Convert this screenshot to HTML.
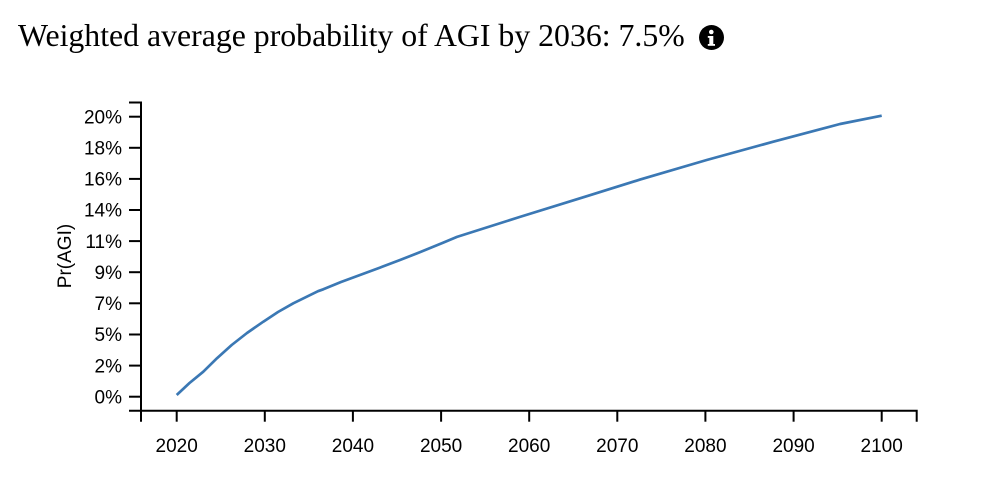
<!DOCTYPE html>
<html>
<head>
<meta charset="utf-8">
<style>
  html, body { margin: 0; padding: 0; background: #fff; }
  body { width: 992px; height: 490px; overflow: hidden; position: relative; }
  svg { position: absolute; left: 0; top: 0; }
  .tick { font-family: "Liberation Sans", Arial, sans-serif; font-size: 19px; fill: #000; }
  .title { font-family: "Liberation Serif", "Times New Roman", serif; font-size: 31.8px; fill: #000; }
</style>
</head>
<body>
<svg width="992" height="490" viewBox="0 0 992 490" xmlns="http://www.w3.org/2000/svg">
  <text class="title" x="18" y="46">Weighted average probability of AGI by 2036: 7.5%</text>
  <!-- info icon -->
  <circle cx="711.5" cy="37.5" r="12.5" fill="#000"/>
  <circle cx="711.3" cy="32" r="2.3" fill="#fff"/>
  <rect x="709.3" y="36" width="4" height="9.5" fill="#fff"/>
  <rect x="707.8" y="36" width="3" height="1.8" fill="#fff"/>
  <rect x="707.8" y="44" width="7.2" height="1.8" fill="#fff"/>

  <!-- y axis -->
  <path d="M129,102.5 H141 V410.7 H129" fill="none" stroke="#000" stroke-width="2"/>
  <g stroke="#000" stroke-width="2">
    <line x1="129" x2="141" y1="116.7" y2="116.7"/>
    <line x1="129" x2="141" y1="147.8" y2="147.8"/>
    <line x1="129" x2="141" y1="178.9" y2="178.9"/>
    <line x1="129" x2="141" y1="210.0" y2="210.0"/>
    <line x1="129" x2="141" y1="241.1" y2="241.1"/>
    <line x1="129" x2="141" y1="272.2" y2="272.2"/>
    <line x1="129" x2="141" y1="303.3" y2="303.3"/>
    <line x1="129" x2="141" y1="334.5" y2="334.5"/>
    <line x1="129" x2="141" y1="365.6" y2="365.6"/>
    <line x1="129" x2="141" y1="396.7" y2="396.7"/>
  </g>
  <g class="tick" text-anchor="end">
    <text x="122" y="123.4">20%</text>
    <text x="122" y="154.5">18%</text>
    <text x="122" y="185.6">16%</text>
    <text x="122" y="216.7">14%</text>
    <text x="122" y="247.8">11%</text>
    <text x="122" y="278.9">9%</text>
    <text x="122" y="310.0">7%</text>
    <text x="122" y="341.2">5%</text>
    <text x="122" y="372.3">2%</text>
    <text x="122" y="403.4">0%</text>
  </g>
  <text class="tick" transform="translate(71,256) rotate(-90)" text-anchor="middle">Pr(AGI)</text>

  <!-- x axis -->
  <path d="M141,421.7 V410.7 H916.7 V421.7" fill="none" stroke="#000" stroke-width="2"/>
  <g stroke="#000" stroke-width="2">
    <line x1="176.7" x2="176.7" y1="410.7" y2="421.7"/>
    <line x1="264.8" x2="264.8" y1="410.7" y2="421.7"/>
    <line x1="352.9" x2="352.9" y1="410.7" y2="421.7"/>
    <line x1="441.1" x2="441.1" y1="410.7" y2="421.7"/>
    <line x1="529.2" x2="529.2" y1="410.7" y2="421.7"/>
    <line x1="617.3" x2="617.3" y1="410.7" y2="421.7"/>
    <line x1="705.4" x2="705.4" y1="410.7" y2="421.7"/>
    <line x1="793.6" x2="793.6" y1="410.7" y2="421.7"/>
    <line x1="881.7" x2="881.7" y1="410.7" y2="421.7"/>
  </g>
  <g class="tick" text-anchor="middle">
    <text x="176.7" y="452">2020</text>
    <text x="264.8" y="452">2030</text>
    <text x="352.9" y="452">2040</text>
    <text x="441.1" y="452">2050</text>
    <text x="529.2" y="452">2060</text>
    <text x="617.3" y="452">2070</text>
    <text x="705.4" y="452">2080</text>
    <text x="793.6" y="452">2090</text>
    <text x="881.7" y="452">2100</text>
  </g>

  <!-- series -->
  <polyline fill="none" stroke="#3b78b4" stroke-width="2.7" stroke-linejoin="round"
    points="176.7,395 189.5,383 203.3,371.7 217,358.2 231.7,345 247,333 263.3,321.7 278,312 293.3,303.3 318,291.2 323.3,289.3 341,282 360,275 380,267.6 400,260 421,251.8 443.3,242.6 457,236.9 520,216.9 588,195.8 640,179.6 706.7,160 773.3,141.7 840,124 881.7,115.7"/>
</svg>
</body>
</html>
